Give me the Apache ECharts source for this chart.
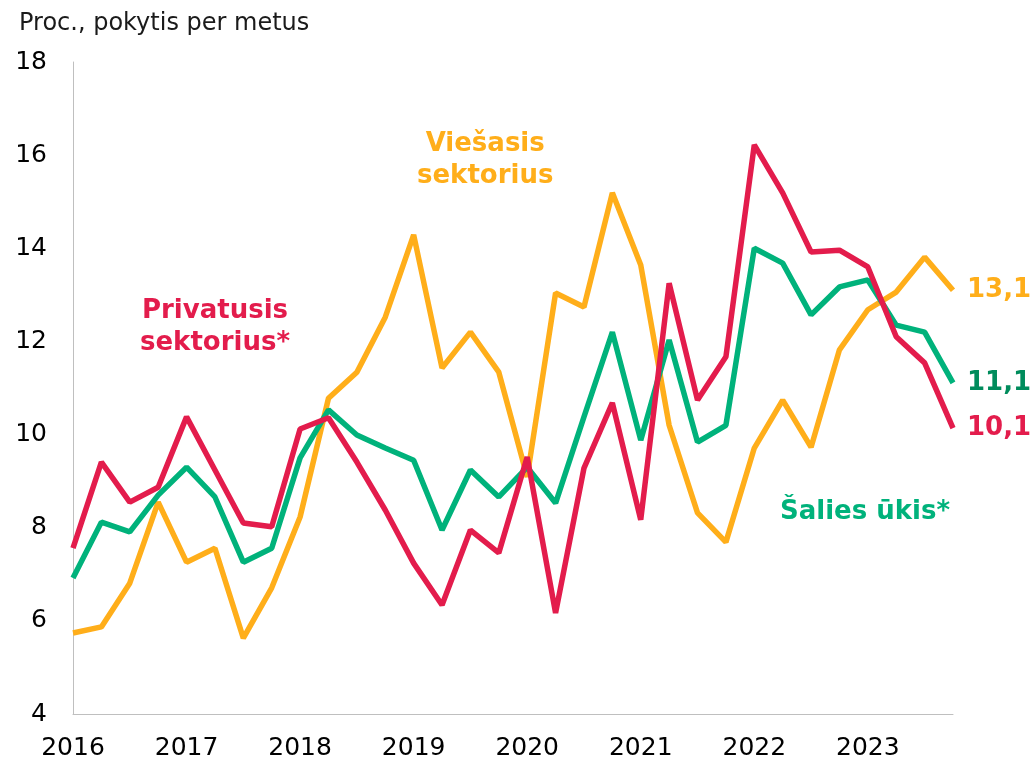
<!DOCTYPE html>
<html lang="lt">
<head>
    <meta charset="UTF-8">
    <title>Darbo užmokestis</title>
    <script src="https://cdn.jsdelivr.net/npm/echarts@6/dist/echarts.min.js"></script>
    <style>
        html, body { margin: 0; padding: 0; background: #fff; }
        #main { width: 1030px; height: 761px; }
    </style>
</head>
<body>
    <div id="main"></div>

    <script>
        // ketvirčiai 2016 K1 - 2023 K4
        const years = ["2016", "2017", "2018", "2019", "2020", "2021", "2022", "2023"]
        const quarters = []
        years.forEach(y => { for (let q = 1; q <= 4; q++) quarters.push(y + " K" + q) })

        const privatusis = [7.56, 9.41, 8.55, 8.87, 10.38, 9.24, 8.1, 8.02,
            10.12, 10.36, 9.41, 8.38, 7.24, 6.34, 7.95, 7.46,
            9.52, 6.17, 9.28, 10.68, 8.17, 13.25, 10.74, 11.67,
            16.22, 15.19, 13.92, 13.96, 13.6, 12.1, 11.54, 10.14]

        const saliesUkis = [6.92, 8.12, 7.91, 8.7, 9.3, 8.66, 7.26, 7.56,
            9.5, 10.53, 9.99, 9.71, 9.45, 7.95, 9.24, 8.66,
            9.3, 8.53, 10.38, 12.2, 9.88, 12.03, 9.84, 10.2,
            14.0, 13.68, 12.57, 13.17, 13.32, 12.35, 12.2, 11.11]

        const viesasis = [5.74, 5.87, 6.81, 8.55, 7.26, 7.56, 5.63, 6.71,
            8.23, 10.78, 11.34, 12.52, 14.29, 11.43, 12.2, 11.34,
            9.09, 13.04, 12.74, 15.19, 13.64, 10.2, 8.32, 7.69,
            9.71, 10.74, 9.73, 11.82, 12.68, 13.06, 13.81, 13.1]

        const RED = "#e31c4c"
        const GREEN = "#00b27b"
        const ORANGE = "#ffae1a"
        const FONT = "'DejaVu Sans', Verdana, sans-serif"

        const endLabel = (color) => ({
            show: true,
            distance: 14,
            color: color,
            fontFamily: FONT,
            fontWeight: "bold",
            fontSize: 26,
            formatter: p => p.value.toFixed(1).replace(".", ",")
        })

        // left = kairysis teksto bloko kraštas
        const boldText = (left, top, text, color) => ({
            type: "text",
            left: left,
            top: top,
            style: {
                text: text,
                fill: color,
                font: "bold 26px " + FONT,
                textAlign: "center",
                lineHeight: 32
            }
        })

        const chart = echarts.init(document.getElementById("main"))
        const option = {
            animation: false,
            backgroundColor: "#fff",
            grid: { left: 73, right: 77, top: 62, bottom: 47, containLabel: false },
            title: {
                text: "Proc., pokytis per metus",
                left: 14,
                top: 7,
                textStyle: { fontFamily: FONT, fontWeight: "normal", fontSize: 24, color: "#1a1a1a" }
            },
            xAxis: {
                type: "category",
                data: quarters,
                boundaryGap: false,
                axisLine: { lineStyle: { color: "#bfbfbf", width: 1 } },
                axisTick: { show: false },
                axisLabel: {
                    interval: 0,
                    margin: 22,
                    fontFamily: FONT,
                    fontSize: 25,
                    color: "#000",
                    formatter: (v, i) => (i % 4 === 0 ? v.slice(0, 4) : "")
                },
                splitLine: { show: false }
            },
            yAxis: {
                type: "value",
                min: 4,
                max: 18,
                interval: 2,
                axisLine: { show: true, lineStyle: { color: "#bfbfbf", width: 1 } },
                axisTick: { show: false },
                axisLabel: { margin: 26, fontFamily: FONT, fontSize: 25, color: "#000" },
                splitLine: { show: false }
            },
            series: [
                {
                    name: "Viešasis sektorius",
                    type: "line",
                    data: viesasis,
                    symbol: "none",
                    lineStyle: { color: ORANGE, width: 5.5 },
                    itemStyle: { color: ORANGE },
                    endLabel: endLabel(ORANGE)
                },
                {
                    name: "Šalies ūkis*",
                    type: "line",
                    data: saliesUkis,
                    symbol: "none",
                    lineStyle: { color: GREEN, width: 5.5 },
                    itemStyle: { color: GREEN },
                    endLabel: endLabel("#008c5c")
                },
                {
                    name: "Privatusis sektorius*",
                    type: "line",
                    data: privatusis,
                    symbol: "none",
                    lineStyle: { color: RED, width: 5.5 },
                    itemStyle: { color: RED },
                    endLabel: endLabel(RED)
                }
            ],
            graphic: [
                boldText(417, 128, "Viešasis\nsektorius", ORANGE),
                boldText(140, 295, "Privatusis\nsektorius*", RED),
                boldText(780, 496, "Šalies ūkis*", GREEN)
            ]
        }
        chart.setOption(option)
    </script>
</body>
</html>
